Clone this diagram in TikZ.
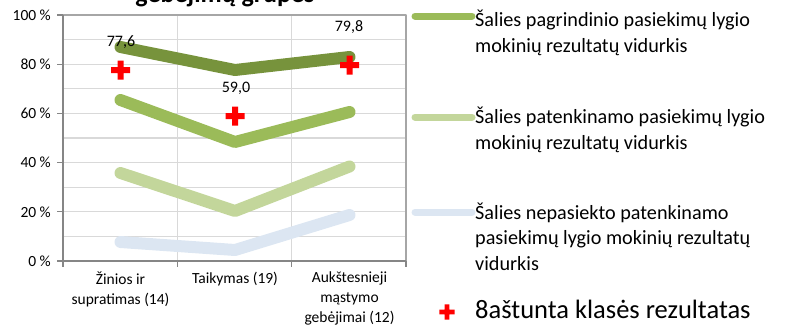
\documentclass[tikz,border=0pt]{standalone}
\usepackage{fontspec}
\setmainfont{Carlito}
\definecolor{darkgr}{HTML}{77933C}
\definecolor{midgr}{HTML}{9BBB59}
\definecolor{lightgr}{HTML}{C3D69B}
\definecolor{paleblue}{HTML}{DCE6F2}
\definecolor{gridgray}{HTML}{D9D9D9}
\definecolor{framegray}{HTML}{A6A6A6}
\definecolor{axisgray}{HTML}{868686}
\newcommand{\axs}{\fontsize{15.5}{20}\selectfont}
\newcommand{\vls}{\fontsize{16}{19}\selectfont}
\newcommand{\lgs}{\fontsize{20.2}{25.3}\selectfont}
\tikzset{plusmark/.pic={\fill[red] (-9.5,-3) rectangle (9.5,3) (-3,-9.5) rectangle (3,9.5);}}

\begin{document}
\begin{tikzpicture}[x=1pt, y=-1pt, line join=round]
      \useasboundingbox (0,0) rectangle (797,327);
      % title, cut by the top edge
      \node[anchor=base, font=\bfseries\fontsize{26}{30}\selectfont] (title) at (225,2.5) {gebėjimų grupes};
      % grid and axes
      \foreach \i in {1,...,9} {
        \draw[gridgray, line width=1.3] (63,261-24.6*\i) -- (406,261-24.6*\i);
      }
      \foreach \x in {177.3, 291.7} {
        \draw[gridgray, line width=1.3] (\x,15) -- (\x,261);
      }
      \draw[framegray, line width=1.3] (63,15) -- (406,15) -- (406,261);
      \draw[axisgray, line width=1.3] (63,15) -- (63,261) -- (406,261);
      \foreach \v in {0,20,...,100} {
        \draw[axisgray, line width=1.3] (57,261-2.46*\v) -- (63,261-2.46*\v);
        \node[anchor=east, inner sep=0, font=\axs] (y\v) at (51,261-2.46*\v) {\v{} \%};
      }
      \foreach \x in {63, 177.3, 291.7, 406} {
        \draw[axisgray, line width=1.3] (\x,261) -- (\x,267);
      }
      \node[anchor=north, align=center, inner sep=0, font=\axs] (xa) at (120.5,272) {Žinios ir\\supratimas (14)};
      \node[anchor=north, align=center, inner sep=0, font=\axs] (xb) at (235,272) {Taikymas (19)};
      \node[anchor=north, align=center, inner sep=0, font=\axs] (xc) at (349.5,272) {Aukštesnieji\\mąstymo\\gebėjimai (12)};
      % series
      \foreach \n\a\b\c in {bl/242/250/215, lt/173/211/166.5, md/100/142/112, dk/47/70/57} {
        \coordinate (\n1) at (120.5,\a);
        \coordinate (\n2) at (235,\b);
        \coordinate (\n3) at (349.5,\c);
      }
      \foreach \n\col in {bl/paleblue, lt/lightgr, md/midgr, dk/darkgr} {
        \draw[\col, line width=12, line cap=round] (\n1) -- (\n2) -- (\n3);
      }
      % class results
      \foreach \i\x\y in {1/120.5/70, 2/235/116, 3/349.5/65} {
        \coordinate (c\i) at (\x,\y);
        \pic at (c\i) {plusmark};
      }
      \node[anchor=base, inner sep=0, font=\vls] (v1) at (121,46) {77,6};
      \node[anchor=base, inner sep=0, font=\vls] (v2) at (236,92) {59,0};
      \node[anchor=base, inner sep=0, font=\vls] (v3) at (349,31) {79,8};
      % legend
      \foreach \i\y\col in {1/16/midgr, 2/117/lightgr, 3/212/paleblue} {
        \coordinate (la\i) at (415,\y);
        \coordinate (lb\i) at (472,\y);
        \draw[\col, line width=7, line cap=round] (la\i) -- (lb\i);
      }
      \node[anchor=base west, align=left, inner sep=0, font=\lgs] (leg1) at (475,52) {Šalies pagrindinio pasiekimų lygio\\mokinių rezultatų vidurkis};
      \node[anchor=base west, align=left, inner sep=0, font=\lgs] (leg2) at (475,149) {Šalies patenkinamo pasiekimų lygio\\mokinių rezultatų vidurkis};
      \node[anchor=base west, align=left, inner sep=0, font=\lgs] (leg3) at (475,270) {Šalies nepasiekto patenkinamo\\pasiekimų lygio mokinių rezultatų\\vidurkis};
      \coordinate (c4) at (447,312);
      \pic[scale=0.8] at (c4) {plusmark};
      \node[anchor=base west, inner sep=0, font=\fontsize{26.5}{30}\selectfont] (leg4) at (475,318) {8aštunta klasės rezultatas};
    \end{tikzpicture}
\end{document}
